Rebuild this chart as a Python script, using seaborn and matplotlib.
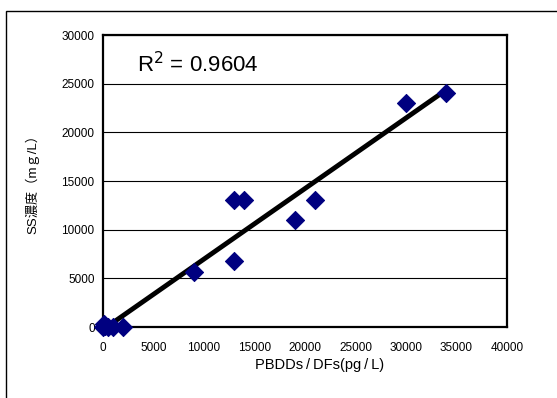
import matplotlib.pyplot as plt
import matplotlib.patches as mpatches
import numpy as np
import seaborn as sns

# data
pbdd = [0, 100, 200, 500, 1000, 2000, 9000, 13000, 14000, 13000, 19000, 21000, 30000, 34000]
ss = [0, 300, 100, 0, 0, 0, 5700, 13000, 13000, 6800, 11000, 13000, 23000, 24000]
xticks = [0, 5000, 10000, 15000, 20000, 25000, 30000, 35000, 40000]
yticks = [0, 5000, 10000, 15000, 20000, 25000, 30000]
r2_label = "R$^2$ = 0.9604"

sns.set_theme(style="white")
plt.rcParams['font.family'] = ['Liberation Sans', 'Noto Sans CJK JP', 'DejaVu Sans']
plt.rcParams['text.color'] = 'black'
plt.rcParams['axes.labelcolor'] = 'black'

fig = plt.figure(figsize=(5.57, 3.98), dpi=100)
ax = fig.add_axes([103 / 557, 1 - 327 / 398, (507 - 103) / 557, (327 - 35) / 398])

# linear trend
k, b = np.polyfit(pbdd, ss, 1)
xs = np.array([0, max(pbdd)])
sns.lineplot(x=xs, y=k * xs + b, ax=ax, color='black', linewidth=3.5, zorder=3)
sns.scatterplot(x=pbdd, y=ss, ax=ax, marker='D', s=85, color='#000080',
                edgecolor='#000080', zorder=4, clip_on=False)

ax.set_xlim(0, 40000)
ax.set_ylim(0, 30000)
ax.set_xticks(xticks)
ax.set_yticks(yticks)
ax.tick_params(axis='both', labelsize=8.5, colors='black', length=3, width=0.8)
ax.tick_params(axis='x', direction='in', pad=11)
ax.tick_params(axis='y', length=0, pad=6)
ax.yaxis.grid(True, color='black', linewidth=0.8)
for sp in ax.spines.values():
    sp.set_color('black')
    sp.set_linewidth(1.6)

ax.set_xlabel("PBDDs\u2009/\u2009DFs(pg\u2009/\u2009L)", fontsize=10.5)
ax.xaxis.set_label_coords(0.535, -0.105)
ax.set_ylabel("SS濃度（mｇ/L）", fontsize=9.5, labelpad=16)
ax.text(0.083, 0.9, r2_label, transform=ax.transAxes, fontsize=16, va='center', color='black')

# outer frame
fig.patches.append(mpatches.Rectangle((6 / 557, -0.1), 2, 1.1 - 11 / 398,
                                      transform=fig.transFigure, fill=False,
                                      edgecolor='black', linewidth=1))

fig.savefig("out.png", dpi=100)
